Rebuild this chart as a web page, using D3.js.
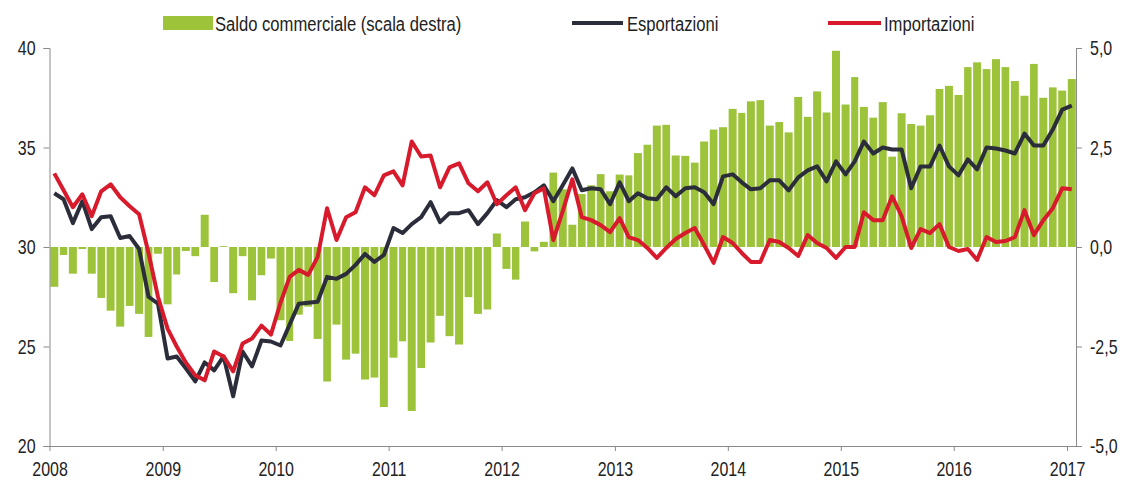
<!DOCTYPE html>
<html>
<head>
    <meta charset="utf-8">
    <title></title>
    <style type="text/css">
        html, body {
            margin: 0;
            padding: 0;
            background: #fff;
        }
        text {
            font-family: 'Liberation Sans', Arial, sans-serif;
            fill: #222;
        }
        .axis path, .axis line {
            stroke: #8a8a8a;
        }
    </style>
</head>
<body>
<svg id="svg" width="1126" height="481"></svg>

<script src="https://cdnjs.cloudflare.com/ajax/libs/d3/7.8.5/d3.min.js"></script>
<script type="text/javascript">
    // monthly data, Jan 2008 - Jan 2017
    var years = [2008, 2009, 2010, 2011, 2012, 2013, 2014, 2015, 2016, 2017];
    var leftTicks = [20, 25, 30, 35, 40];
    var rightTicks = [-5, -2.5, 0, 2.5, 5];

    // Esportazioni (scala sinistra)
    var esportazioni = [
        32.7, 32.4, 31.2, 32.3, 30.9, 31.5, 31.55, 30.45, 30.55, 29.9, 27.5, 27.15,
        24.4, 24.5, 23.9, 23.25, 24.2, 23.8, 24.5, 22.5, 24.75, 24.0, 25.3, 25.25,
        25.05, 26.1, 27.15, 27.2, 27.25, 28.5, 28.4, 28.65, 29.1, 29.65, 29.25, 29.6,
        30.95, 30.7, 31.15, 31.5, 32.25, 31.25, 31.7, 31.7, 31.85, 31.15, 31.7, 32.35,
        32.0, 32.4, 32.5, 32.75, 33.1, 32.3, 33.1, 33.95, 32.85, 32.95, 32.9, 32.15,
        33.25, 32.3, 32.7, 32.45, 32.4, 33.0, 32.55, 32.95, 33.0, 32.75, 32.15, 33.55,
        33.65, 33.25, 32.9, 32.95, 33.35, 33.35, 32.85, 33.5, 33.85, 34.05, 33.3, 34.3,
        33.65, 34.3, 35.3, 34.7, 35.0, 34.9, 34.9, 32.95, 34.05, 34.05, 35.1, 34.05,
        33.6, 34.4, 33.9, 35.0, 34.95, 34.85, 34.7, 35.7, 35.1, 35.1, 35.9, 36.9,
        37.1
    ];

    // Importazioni (scala sinistra)
    var importazioni = [
        33.7, 32.85, 32.0, 32.65, 31.55, 32.8, 33.15, 32.5, 32.05, 31.65, 29.7, 27.5,
        25.9, 25.0, 24.2, 23.55, 23.3, 24.75, 24.5, 23.75, 25.15, 25.4, 26.05, 25.6,
        27.2, 28.5, 28.85, 28.6, 29.5, 31.95, 30.35, 31.5, 31.75, 33.0, 32.6, 33.6,
        33.8, 33.1, 35.3, 34.55, 34.6, 33.0, 34.0, 34.2, 33.2, 32.8, 33.25, 32.15,
        32.6, 33.0, 31.85, 32.7, 32.95, 30.35, 31.8, 33.4, 31.5, 31.35, 31.1, 30.75,
        31.45, 30.5, 30.35, 29.95, 29.45, 29.95, 30.4, 30.7, 30.95, 30.1, 29.2, 30.5,
        30.2, 29.7, 29.25, 29.25, 30.35, 30.25, 29.95, 29.55, 30.6, 30.2, 29.95, 29.45,
        30.0, 30.0, 31.75, 31.35, 31.35, 32.55, 31.55, 29.95, 30.9, 30.7, 31.15, 30.0,
        29.8, 29.9, 29.35, 30.5, 30.25, 30.3, 30.5, 31.85, 30.6, 31.35, 31.95, 32.95,
        32.9
    ];

    // Saldo commerciale (scala destra)
    var saldo = [
        -1.0, -0.2, -0.67, -0.05, -0.67, -1.28, -1.6, -2.0, -1.48, -1.68, -2.26, -0.17,
        -1.44, -0.69, -0.1, -0.23, 0.81, -0.88, 0.02, -1.16, -0.23, -1.34, -0.71, -0.29,
        -1.84, -2.36, -1.7, -1.5, -2.31, -3.38, -1.95, -2.83, -2.68, -3.33, -3.28, -4.02,
        -2.78, -2.37, -4.12, -3.04, -2.4, -1.73, -2.24, -2.45, -1.26, -1.68, -1.57, 0.34,
        -0.55, -0.82, 0.64, -0.11, 0.13, 1.87, 1.45, 0.56, 1.33, 1.55, 1.83, 1.4,
        1.82, 1.8, 2.36, 2.57, 3.05, 3.07, 2.3, 2.29, 2.12, 2.65, 2.95, 3.01,
        3.47, 3.37, 3.66, 3.69, 3.05, 3.14, 2.88, 3.77, 3.27, 3.91, 3.38, 4.93,
        3.58, 4.27, 3.52, 3.25, 3.64, 2.27, 3.36, 3.09, 3.05, 3.31, 3.97, 4.05,
        3.82, 4.52, 4.64, 4.47, 4.72, 4.52, 4.17, 3.8, 4.6, 3.75, 4.01, 3.93,
        4.22
    ];

    var months = d3.timeMonth.range(new Date(2008, 0, 1), new Date(2017, 1, 1));

    var svg = d3.select('#svg');
    var mLeft = 49.5, mRight = 1076, mTop = 48, mBottom = 446;

    var x = d3.scaleTime()
        .domain([new Date(2008, 0, 1), new Date(2017, 0, 1)])
        .range([mLeft, 1067]);
    var yL = d3.scaleLinear().domain([20, 40]).range([mBottom, mTop]);
    var yR = d3.scaleLinear().domain([-5, 5]).range([mBottom, mTop]);

    function mid(d) {
        return (x(d) + x(d3.timeMonth.offset(d, 1))) / 2;
    }

    // bars
    svg.append('g')
        .selectAll('rect')
        .data(months)
        .enter()
        .append('rect')
        .attr('x', (d) => x(d) + 0.8)
        .attr('width', (d) => x(d3.timeMonth.offset(d, 1)) - x(d) - 1.6)
        .attr('y', (d, i) => Math.min(yR(saldo[i]), yR(0)))
        .attr('height', (d, i) => Math.abs(yR(saldo[i]) - yR(0)))
        .attr('fill', '#9dc33b');

    // axes
    var fmt = (v) => d3.format('.1f')(v).replace('.', ',').replace('−', '-');

    svg.append('g')
        .attr('class', 'axis')
        .attr('transform', 'translate(' + mLeft + ',0)')
        .call(d3.axisLeft(yL).tickValues(leftTicks).tickSize(6).tickPadding(8));
    svg.append('g')
        .attr('class', 'axis')
        .attr('transform', 'translate(' + mRight + ',0)')
        .call(d3.axisRight(yR).tickValues(rightTicks).tickSize(6).tickPadding(8).tickFormat(fmt));
    var gB = svg.append('g')
        .attr('class', 'axis')
        .attr('transform', 'translate(0,' + mBottom + ')')
        .call(d3.axisBottom(x)
            .tickValues(years.map((y) => new Date(y, 0, 1)))
            .tickSize(5).tickPadding(10)
            .tickFormat(d3.timeFormat('%Y')));
    gB.select('.domain').attr('d', 'M' + mLeft + ',0.5H' + mRight);

    svg.selectAll('.axis text')
        .style('font-size', '21px')
        .attr('fill', '#222');

    // lines
    var lineL = (arr) => d3.line()
        .x((d) => mid(d))
        .y((d, i) => yL(arr[i]));

    svg.append('path')
        .datum(months)
        .attr('fill', 'none')
        .attr('stroke', '#2b2d3a')
        .attr('stroke-width', 4)
        .attr('stroke-linejoin', 'round')
        .attr('d', lineL(esportazioni));

    svg.append('path')
        .datum(months)
        .attr('fill', 'none')
        .attr('stroke', '#d81b2c')
        .attr('stroke-width', 4)
        .attr('stroke-linejoin', 'round')
        .attr('d', lineL(importazioni));

    // legend
    var lg = svg.append('g').attr('class', 'legend').style('font-size', '20px');
    lg.append('rect').attr('x', 163).attr('y', 16).attr('width', 50).attr('height', 14).attr('fill', '#9dc33b');
    lg.append('text').attr('x', 215).attr('y', 31).text('Saldo commerciale (scala destra)');
    lg.append('line').attr('x1', 572).attr('x2', 623).attr('y1', 23).attr('y2', 23)
        .attr('stroke', '#2b2d3a').attr('stroke-width', 4);
    lg.append('text').attr('x', 627).attr('y', 31).text('Esportazioni');
    lg.append('line').attr('x1', 828).attr('x2', 881).attr('y1', 23).attr('y2', 23)
        .attr('stroke', '#d81b2c').attr('stroke-width', 4);
    lg.append('text').attr('x', 884).attr('y', 31).text('Importazioni');

    // narrow look: squeeze every text horizontally
    function squeeze(sel, k) {
        sel.each(function () {
            var l = this.getComputedTextLength();
            d3.select(this).attr('textLength', l * k).attr('lengthAdjust', 'spacingAndGlyphs');
        });
    }
    squeeze(svg.selectAll('.axis text'), 0.76);
    squeeze(svg.selectAll('.legend text'), 0.83);
</script>
</body>
</html>
